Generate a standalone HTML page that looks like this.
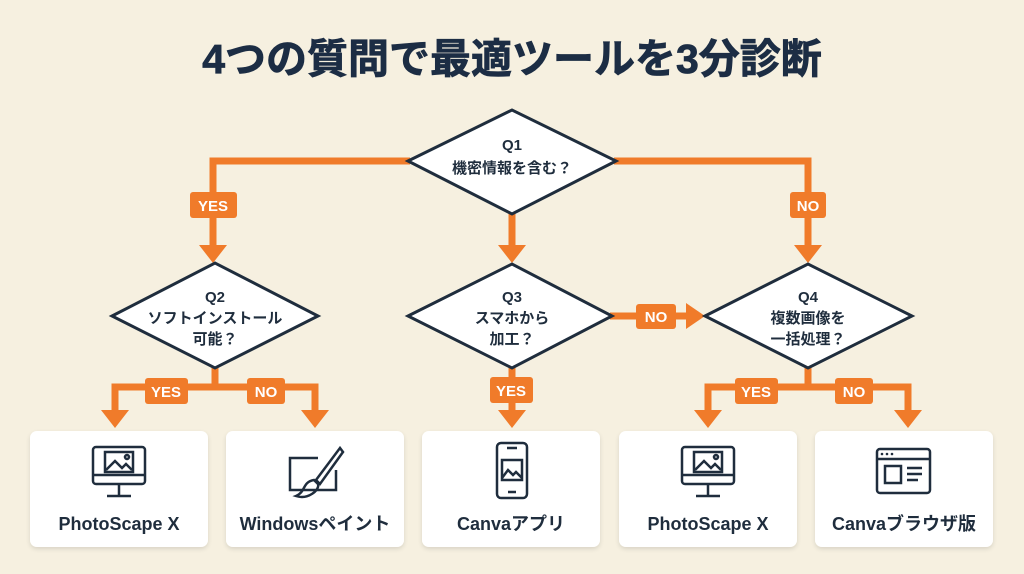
<!DOCTYPE html>
<html><head><meta charset="utf-8"><style>
html,body{margin:0;padding:0;background:#f6f0e0;}
svg{display:block}
text{font-family:"Liberation Sans","Noto Sans CJK JP",sans-serif;font-weight:bold;fill:#1f2d3d}
.lb{fill:#fff;font-size:15px}
</style></head><body>
<svg width="1024" height="574" viewBox="0 0 1024 574" xmlns="http://www.w3.org/2000/svg">
<defs>
<filter id="sh" x="-10%" y="-10%" width="120%" height="130%"><feDropShadow dx="0" dy="2" stdDeviation="2" flood-color="#000" flood-opacity="0.12"/></filter>
</defs>
<rect width="1024" height="574" fill="#f6f0e0"/>
<text x="512" y="73" font-size="41" text-anchor="middle" style="fill:#1c2d44" stroke="#1c2d44" stroke-width="0.8">4つの質問で最適ツールを3分診断</text>
<g stroke="#f07b2a" stroke-width="7" fill="none">
<polyline points="410,161 213,161 213,250"/>
<polyline points="614,161 808,161 808,250"/>
<line x1="512" y1="212" x2="512" y2="250"/>
<polyline points="215,366 215,387 115,387 115,412"/>
<polyline points="215,387 315,387 315,412"/>
<line x1="512" y1="366" x2="512" y2="412"/>
<line x1="610" y1="316" x2="690" y2="316"/>
<polyline points="808,366 808,387 708,387 708,412"/>
<polyline points="808,387 908,387 908,412"/>
</g>
<g fill="#f07b2a">
<polygon points="199,245 227,245 213,263"/>
<polygon points="794,245 822,245 808,263"/>
<polygon points="498,245 526,245 512,263"/>
<polygon points="101,410 129,410 115,428"/>
<polygon points="301,410 329,410 315,428"/>
<polygon points="498,410 526,410 512,428"/>
<polygon points="694,410 722,410 708,428"/>
<polygon points="894,410 922,410 908,428"/>
<polygon points="686,303 686,329 705,316"/>
<rect x="190" y="192" width="47" height="26" rx="3"/>
<rect x="790" y="192" width="36" height="26" rx="3"/>
<rect x="145" y="378" width="43" height="26" rx="3"/>
<rect x="247" y="378" width="38" height="26" rx="3"/>
<rect x="490" y="377" width="43" height="26" rx="3"/>
<rect x="636" y="304" width="40" height="25" rx="3"/>
<rect x="735" y="378" width="43" height="26" rx="3"/>
<rect x="835" y="378" width="38" height="26" rx="3"/>
</g>
<g text-anchor="middle">
<text class="lb" x="213" y="211">YES</text>
<text class="lb" x="808" y="211">NO</text>
<text class="lb" x="166" y="397">YES</text>
<text class="lb" x="266" y="397">NO</text>
<text class="lb" x="511" y="396">YES</text>
<text class="lb" x="656" y="322">NO</text>
<text class="lb" x="756" y="397">YES</text>
<text class="lb" x="854" y="397">NO</text>
</g>
<g fill="#fff" stroke="#1f2d3d" stroke-width="3" stroke-linejoin="miter">
<polygon points="408,161 512,110 616,161 512,214"/>
<polygon points="112,316 215,263 318,316 215,368"/>
<polygon points="408,316 512,264 612,316 512,368"/>
<polygon points="705,316 808,264 912,316 808,368"/>
</g>
<g font-size="15" text-anchor="middle">
<text x="512" y="150">Q1</text><text x="512" y="173">機密情報を含む？</text>
<text x="215" y="302">Q2</text><text x="215" y="323">ソフトインストール</text><text x="215" y="344">可能？</text>
<text x="512" y="302">Q3</text><text x="512" y="323">スマホから</text><text x="512" y="344">加工？</text>
<text x="808" y="302">Q4</text><text x="808" y="323">複数画像を</text><text x="808" y="344">一括処理？</text>
</g>
<g fill="#fff" filter="url(#sh)">
<rect x="30" y="431" width="178" height="116" rx="7"/>
<rect x="226" y="431" width="178" height="116" rx="7"/>
<rect x="422" y="431" width="178" height="116" rx="7"/>
<rect x="619" y="431" width="178" height="116" rx="7"/>
<rect x="815" y="431" width="178" height="116" rx="7"/>
</g>
<g fill="none" stroke="#1f2d3d" stroke-width="2.5">
<g id="mon">
<rect x="93" y="447" width="52" height="37" rx="3"/>
<line x1="93" y1="475" x2="145" y2="475"/>
<line x1="119" y1="484" x2="119" y2="495"/><line x1="107" y1="496" x2="131" y2="496"/>
<rect x="105" y="452" width="28" height="20"/>
<polyline points="106,470 115,461 122,468 126,464 132,470"/>
<circle cx="127" cy="457" r="2"/>
</g>
<use href="#mon" transform="translate(589,0)"/>
<polyline points="318,458 290,458 290,490 336,490 336,470"/>
<path d="M340,448 L316,480 L320,484 L343,452 Z"/>
<path d="M314,480 C302,482 306,492 296,496 C308,500 320,490 318,484 Z"/>
<rect x="497" y="443" width="30" height="55" rx="4"/>
<line x1="507" y1="448" x2="517" y2="448"/><line x1="508" y1="492" x2="516" y2="492"/>
<rect x="502" y="460" width="20" height="20"/>
<polyline points="502,478 508,470 513,475 516,472 522,478"/>
<rect x="877" y="449" width="53" height="44" rx="3"/>
<line x1="877" y1="459" x2="930" y2="459"/>
<rect x="885" y="466" width="16" height="17"/>
<line x1="907" y1="468" x2="922" y2="468"/><line x1="907" y1="474" x2="922" y2="474"/><line x1="907" y1="480" x2="918" y2="480"/>
</g>
<g fill="#1f2d3d"><circle cx="882" cy="454" r="1.3"/><circle cx="887" cy="454" r="1.3"/><circle cx="892" cy="454" r="1.3"/></g>
<g font-size="18" text-anchor="middle">
<text x="119" y="530">PhotoScape X</text>
<text x="315" y="530">Windowsペイント</text>
<text x="511" y="530">Canvaアプリ</text>
<text x="708" y="530">PhotoScape X</text>
<text x="904" y="530">Canvaブラウザ版</text>
</g>
</svg>
</body></html>
